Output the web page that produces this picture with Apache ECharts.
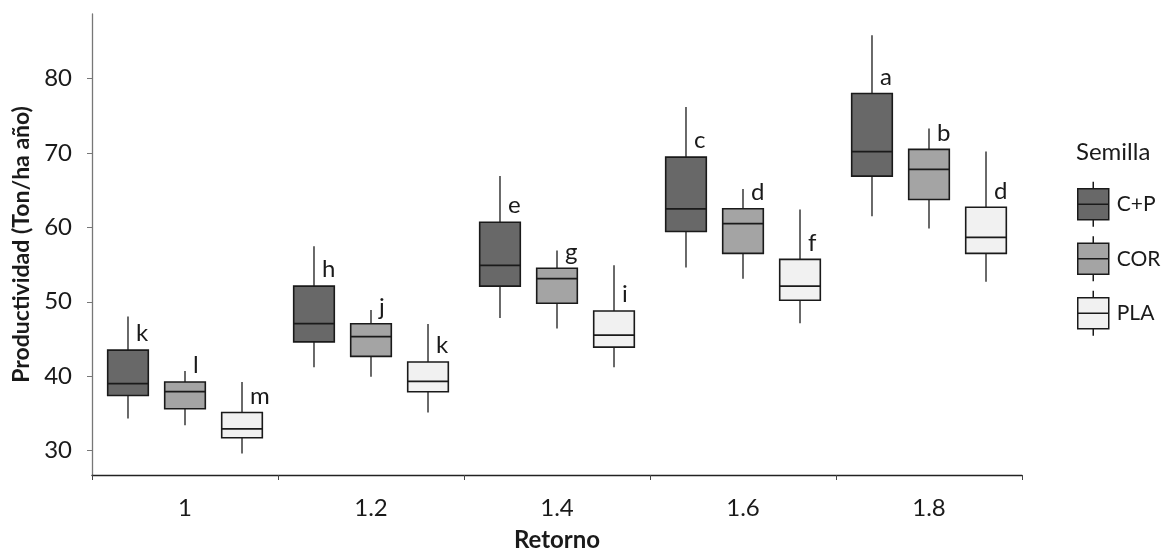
<!DOCTYPE html>
<html><head><meta charset="utf-8">
<script src="https://cdn.jsdelivr.net/npm/echarts@6/dist/echarts.min.js"></script>
<style>html,body{margin:0;padding:0;background:#fff}#c{width:1163px;height:557px}</style>
</head><body><div id="c"></div>
<script>
// ---- data ----
const categories = ['1', '1.2', '1.4', '1.6', '1.8'];
const seriesNames = ['C+P', 'COR', 'PLA'];
// each box: [min, Q1, median, Q3, max]
const cpValues = [
  [34.3, 37.4, 39.0, 43.5, 48.0],
  [41.2, 44.6, 47.05, 52.1, 57.45],
  [47.8, 52.1, 54.9, 60.7, 66.9],
  [54.6, 59.45, 62.5, 69.45, 76.2],
  [61.5, 66.9, 70.2, 78.0, 85.85]
];
const corValues = [
  [33.4, 35.6, 37.9, 39.2, 40.7],
  [39.9, 42.65, 45.3, 47.05, 48.9],
  [46.4, 49.8, 53.1, 54.5, 56.9],
  [53.1, 56.5, 60.5, 62.5, 65.15],
  [59.85, 63.75, 67.8, 70.5, 73.3]
];
const plaValues = [
  [29.6, 31.7, 32.9, 35.1, 39.2],
  [35.1, 37.9, 39.3, 41.9, 47.0],
  [41.2, 43.9, 45.5, 48.75, 54.9],
  [47.1, 50.2, 52.1, 55.7, 62.4],
  [52.7, 56.5, 58.65, 62.7, 70.2]
];
const cpLetters = ['k', 'h', 'e', 'c', 'a'];
const corLetters = ['l', 'j', 'g', 'd', 'b'];
const plaLetters = ['m', 'k', 'i', 'f', 'd'];
const yTickValues = [30, 40, 50, 60, 70, 80];

// ---- styling ----
const FONT = 'Lato, "Open Sans", sans-serif';
const INK = '#1a1a1a';
const fills = ['#686868', '#a4a4a4', '#f1f1f1'];
const allValues = [cpValues, corValues, plaValues];
const allLetters = [cpLetters, corLetters, plaLetters];

function makeRender(si) {
  return function (params, api) {
    const idx = api.value(0);
    const band = api.size([1, 0])[0];
    const off = (si - 1) * band * 0.3065;
    const halfW = band * 0.2183 / 2;
    const base = api.coord([idx, api.value(1)]);
    const cx = base[0] + off;
    const y = (d) => api.coord([idx, api.value(d)])[1];
    const yMin = y(1), yQ1 = y(2), yMed = y(3), yQ3 = y(4), yMax = y(5);
    const letter = allLetters[si][params.dataIndex];
    return {
      type: 'group',
      children: [
        { type: 'line', shape: { x1: cx, y1: yMax, x2: cx, y2: yQ3 }, style: { stroke: INK, lineWidth: 1.3 } },
        { type: 'line', shape: { x1: cx, y1: yQ1, x2: cx, y2: yMin }, style: { stroke: INK, lineWidth: 1.3 } },
        { type: 'rect', shape: { x: cx - halfW, y: yQ3, width: halfW * 2, height: yQ1 - yQ3 },
          style: { fill: fills[si], stroke: INK, lineWidth: 1.6 } },
        { type: 'line', shape: { x1: cx - halfW, y1: yMed, x2: cx + halfW, y2: yMed }, style: { stroke: INK, lineWidth: 1.8 } },
        { type: 'text', x: cx + 8, y: yQ3 - 16.5,
          style: { text: letter, font: '24px ' + FONT, fill: INK, align: 'left', verticalAlign: 'middle' } }
      ]
    };
  };
}

const series = seriesNames.map(function (name, si) {
  return {
    name: name,
    type: 'custom',
    renderItem: makeRender(si),
    dimensions: ['x', 'min', 'q1', 'median', 'q3', 'max'],
    encode: { x: 0, y: [1, 2, 3, 4, 5] },
    itemStyle: { color: fills[si], borderColor: INK, borderWidth: 1.5 },
    data: allValues[si].map(function (v, i) { return [i].concat(v); }),
    z: 2
  };
});

const boxIcon = 'path://M15.5,0L15.5,7M0,7L31,7L31,38L0,38ZM0,22.5L31,22.5M15.5,38L15.5,45';

const chart = echarts.init(document.getElementById('c'), null, { renderer: 'canvas' });
chart.setOption({
  animation: false,
  backgroundColor: '#ffffff',
  title: {
    text: 'Semilla', left: 1076, top: 140, padding: 0,
    textStyle: { fontFamily: FONT, fontSize: 24, fontWeight: 'normal', color: INK }
  },
  legend: {
    orient: 'vertical', left: 1077, top: 181, padding: 0,
    itemWidth: 31, itemHeight: 45, itemGap: 8,
    icon: boxIcon,
    data: seriesNames,
    itemStyle: { borderColor: INK, borderWidth: 1.5 },
    textStyle: { fontFamily: FONT, fontSize: 21, color: INK, padding: [0, 0, 0, 3] },
    selectedMode: false
  },
  grid: { left: 92, right: 141, top: 14, bottom: 78 },
  xAxis: {
    type: 'category',
    data: categories,
    boundaryGap: true,
    axisLine: { show: true, lineStyle: { color: '#222', width: 1.3 } },
    axisTick: { show: true, length: 5, lineStyle: { color: '#444', width: 1 } },
    axisLabel: { margin: 21, fontFamily: FONT, fontSize: 24, color: INK },
    splitLine: { show: false },
    name: 'Retorno', nameLocation: 'middle', nameGap: 53,
    nameTextStyle: { fontFamily: FONT, fontSize: 24, fontWeight: 'bold', color: INK }
  },
  yAxis: {
    type: 'value',
    min: 26.7, max: 88.7,
    axisLine: { show: true, lineStyle: { color: '#777', width: 1.3 } },
    axisTick: { show: true, length: 5, customValues: yTickValues, lineStyle: { color: '#777', width: 1 } },
    axisLabel: { customValues: yTickValues, margin: 20, fontFamily: FONT, fontSize: 24, color: INK },
    splitLine: { show: false },
    name: 'Productividad (Ton/ha año)', nameLocation: 'middle', nameGap: 58, nameRotate: 90,
    nameTextStyle: { fontFamily: FONT, fontSize: 23, fontWeight: 'bold', color: INK }
  },
  series: series
});
</script>
</body></html>
